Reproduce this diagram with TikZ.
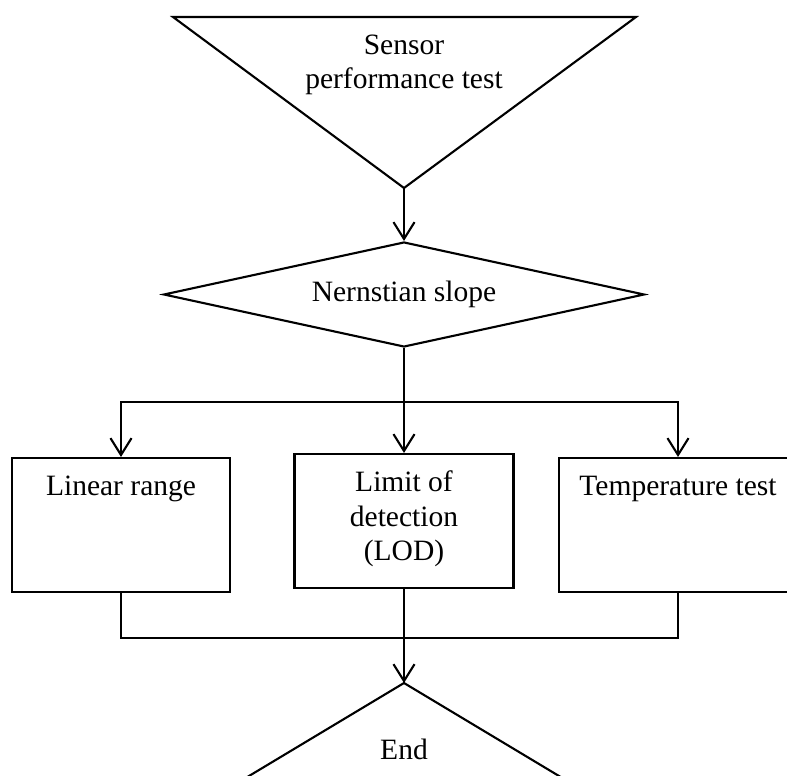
\documentclass[tikz,border=0pt]{standalone}
\usepackage{fontspec}
\setmainfont{Liberation Serif}
\usetikzlibrary{shapes.geometric,arrows.meta,positioning}

\begin{document}
\begin{tikzpicture}[x=0.02cm, y=-0.02cm, line width=1.2pt,
  every node/.style={font=\fontsize{16.8}{19.5}\selectfont, align=center},
  box/.style={draw, rectangle, minimum height=2.68cm, inner sep=0pt},
  decision/.style={draw, diamond, aspect=4.58, minimum width=9.62cm, minimum height=2.1cm, inner sep=0pt},
  >={Straight Barb[length=9.6pt,width=12pt]}]
        \clip (0,0) rectangle (787,776);

        \draw (173,17) -- (636,17) -- (404,188) -- cycle;
        \coordinate (top) at (404,188);
        \node (sensor) at (404,65) {Sensor\\performance test};

        \node[decision] (nern) at (404,294.5) {Nernstian slope};
        \coordinate (split) at (404,402);

        \node[box, minimum width=4.36cm] (lin) at (121,525) {};
        \node[box, minimum width=4.38cm] (lod) at (404,521) {};
        \node[box, minimum width=4.76cm] (temp) at (678,525) {};
        \node (lintext) at (121,489) {Linear range};
        \node (lodtext) at (404,519) {Limit of\\detection\\(LOD)};
        \node (temptext) at (678,489) {Temperature test};

        \coordinate (join) at (404,638);
        \coordinate (bottom) at (404,683);
        \draw (209,800) -- (bottom) -- (599,800);
        \node (end) at (404,749) {End};

        \draw[->] (top) to (nern.north);
        \draw (nern.south) to (split);
        \draw[->] (split) to (lod.north);
        \draw[->] (split) -| (lin.north);
        \draw[->] (split) -| (temp.north);
        \draw (lin.south) |- (join);
        \draw (temp.south) |- (join);
        \draw[->] (lod.south) to (bottom);
      \end{tikzpicture}
\end{document}
